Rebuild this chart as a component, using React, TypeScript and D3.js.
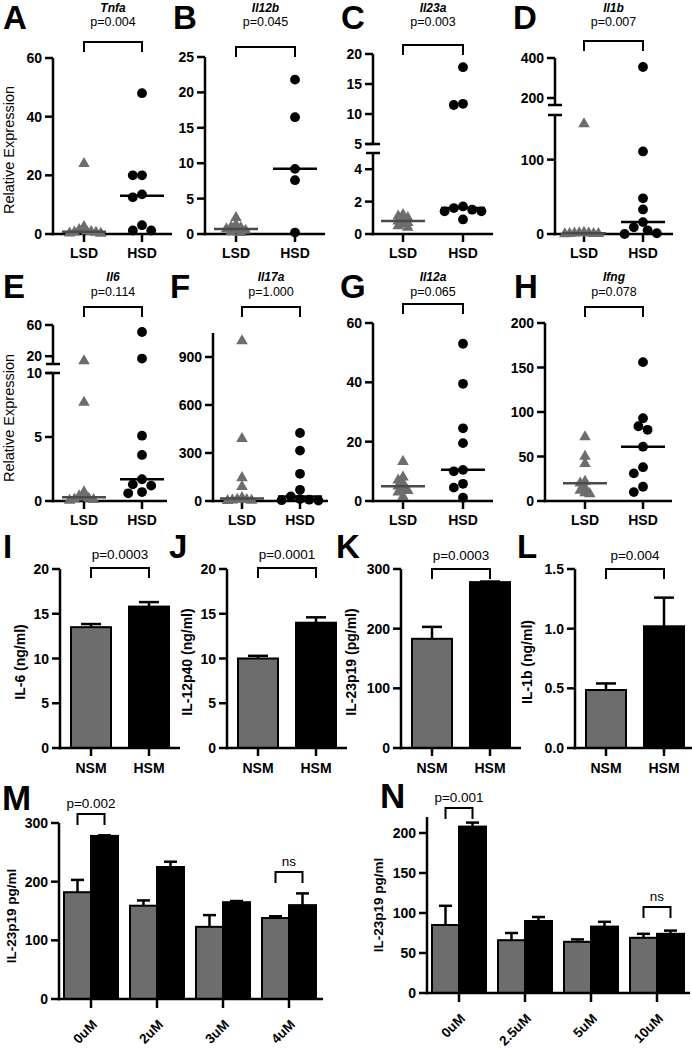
import React from 'react';
import * as d3 from 'd3';

const FONT = "'Liberation Sans', Arial, Helvetica, sans-serif";
const GRAY = '#6d6d6d';
const LW = 2.5;

// ---- A–H: relative expression per mouse (LSD vs HSD) ----
const tnfaLSD = [24, 2.5, 1.5, 1.0, 0.8, 0.6, 0.5, 0.3, 0.2];
const tnfaHSD = [48, 20, 20, 13.5, 12.5, 3, 1.2, 1.2];
const il12bLSD = [2.3, 1.3, 1.0, 0.9, 0.7, 0.6, 0.5, 0.3, 0.2];
const il12bHSD = [21.8, 16.5, 9.2, 7.6, 0.2];
const il23aLSD = [1.2, 1.1, 1.0, 0.9, 0.8, 0.7, 0.6, 0.5, 0.4];
const il23aHSD = [17.8, 11.7, 11.5, 1.7, 1.6, 1.5, 1.4, 1.4, 0.9];
const il1bLSD = [148, 2, 1.5, 1, 1, 0.5, 0.5, 0.3, 0.2];
const il1bHSD = [355, 111, 48, 33, 16, 9, 5, 1, 0];
const il6LSD = [14, 7.7, 0.7, 0.4, 0.3, 0.2, 0.15, 0.1, 0.05];
const il6HSD = [51, 17, 5.1, 3.6, 1.7, 1.3, 1.2, 0.7, 0.6];
const il17aLSD = [1000, 390, 145, 90, 20, 10, 8, 5, 3, 2];
const il17aHSD = [425, 315, 170, 70, 28, 12, 8, 5, 3];
const il12aLSD = [13.3, 8, 7, 6, 5, 4, 3.5, 3, 1.5];
const il12aHSD = [53, 39.5, 24.5, 19.5, 10.5, 10, 5.8, 4.5, 1.1];
const ifngLSD = [72, 50, 42, 22, 20, 15, 12, 9, 8];
const ifngHSD = [156, 93, 84, 80, 61, 38, 31, 16, 10];

const tnfaTicks = [0, 20, 40, 60];
const il12bTicks = [0, 5, 10, 15, 20, 25];
const il23aTicksLow = [0, 2, 4];
const il23aTicksHigh = [5, 10, 15, 20];
const il1bTicksLow = [0, 100];
const il1bTicksHigh = [200, 400];
const il6TicksLow = [0, 5, 10];
const il6TicksHigh = [20, 60];
const il17aTicks = [0, 300, 600, 900];
const il12aTicks = [0, 20, 40, 60];
const ifngTicks = [0, 50, 100, 150, 200];

// ---- I–L: ELISA, mean and SEM ----
const media = ['NSM', 'HSM'];
const il6Mean = [13.5, 15.8];
const il6Sem = [0.35, 0.5];
const il12p40Mean = [10.0, 14.0];
const il12p40Sem = [0.3, 0.6];
const il23Mean = [183, 278];
const il23Sem = [20, 1];
const il1bMean = [0.486, 1.02];
const il1bSem = [0.055, 0.24];

// ---- M–N: dose series ----
const doseM = ['0uM', '2uM', '3uM', '4uM'];
const mNSM = [182, 159, 123, 138];
const mNSMerr = [21, 9, 20, 3];
const mHSM = [278, 225, 165, 160];
const mHSMerr = [1, 9, 2, 20];
const doseN = ['0uM', '2.5uM', '5uM', '10uM'];
const nNSM = [85, 66, 64, 69];
const nNSMerr = [24, 9, 3, 5];
const nHSM = [208, 90, 83, 74];
const nHSMerr = [5, 5, 6, 4];

const DIETS = ['LSD', 'HSD'];

type Seg = { domain: [number, number]; range: [number, number]; ticks: number[] };

interface ScatterCfg {
  letter: string; lx: number; ly: number;
  gene: string; p: string; titleY: number; pY: number; brY: number;
  ax: number; cx: [number, number]; end: number;
  segs: Seg[];
  lsd: number[]; hsd: number[];
  ylabel?: { text: string; x: number; y: number };
}

// simple beeswarm: place highest first, nudge sideways until no overlap
function swarm(vals: number[], y: (v: number) => number, d: number) {
  const step = d / 2;
  const placed: { dx: number; y: number }[] = [];
  const out: { dx: number; y: number }[] = new Array(vals.length);
  const order = d3.range(vals.length).sort((a, b) => vals[b] - vals[a]);
  for (const i of order) {
    const py = y(vals[i]);
    for (let k = 0; k < 80; k++) {
      const dx = k === 0 ? 0 : (k % 2 ? -1 : 1) * Math.ceil(k / 2) * step;
      if (placed.every(p => Math.hypot(p.dx - dx, p.y - py) >= d)) {
        const pt = { dx, y: py };
        placed.push(pt);
        out[i] = pt;
        break;
      }
    }
  }
  return out;
}

function ScatterPanel({ c }: { c: ScatterCfg }) {
  const scales = c.segs.map(s => d3.scaleLinear().domain(s.domain).range(s.range));
  const y = (v: number) => {
    let k = 0;
    c.segs.forEach((s, i) => { if (i > 0 && v > s.domain[0]) k = i; });
    return scales[k](v);
  };
  const x = d3.scalePoint<string>().domain(DIETS).range(c.cx);
  const zero = c.segs[0].range[0];
  const xl = x('LSD')!, xh = x('HSD')!;
  const mid = (xl + xh) / 2;
  const lsdPts = swarm(c.lsd, y, 4.8);
  const hsdPts = swarm(c.hsd, y, 9.2);
  const tri = d3.symbol().type(d3.symbolTriangle).size(58)()!;
  const medL = y(d3.median(c.lsd)!);
  const medH = y(d3.median(c.hsd)!);
  return (
    <g>
      <text x={c.lx} y={c.ly} fontSize={33} fontWeight="bold">{c.letter}</text>
      <text x={mid} y={c.titleY} textAnchor="middle" fontSize={12} fontWeight="bold" fontStyle="italic">{c.gene}</text>
      <text x={mid} y={c.pY} textAnchor="middle" fontSize={12.5}>{c.p}</text>
      <path d={`M${xl},${c.brY + 10}V${c.brY}H${xh}V${c.brY + 10}`} fill="none" stroke="#000" strokeWidth={2} />
      {c.segs.map((s, i) => (
        <g key={i}>
          <line x1={c.ax} x2={c.ax} y1={s.range[0] + (i === 0 ? LW / 2 : 0)} y2={s.range[1]} stroke="#000" strokeWidth={LW} />
          {s.ticks.map(t => (
            <g key={t}>
              <line x1={c.ax - 8} x2={c.ax} y1={scales[i](t)} y2={scales[i](t)} stroke="#000" strokeWidth={LW} />
              <text x={c.ax - 11} y={scales[i](t)} dy="0.36em" textAnchor="end" fontSize={14} fontWeight="bold">{t}</text>
            </g>
          ))}
          {i > 0 && (
            <g stroke="#000" strokeWidth={LW}>
              <line x1={c.ax - 7} x2={c.ax + 7} y1={c.segs[i - 1].range[1]} y2={c.segs[i - 1].range[1]} />
              <line x1={c.ax - 7} x2={c.ax + 7} y1={s.range[0]} y2={s.range[0]} />
            </g>
          )}
        </g>
      ))}
      <line x1={c.ax - LW / 2} x2={c.end} y1={zero} y2={zero} stroke="#000" strokeWidth={LW} />
      {DIETS.map(k => (
        <g key={k}>
          <line x1={x(k)} x2={x(k)} y1={zero} y2={zero + 8} stroke="#000" strokeWidth={LW} />
          <text x={x(k)} y={zero + 24} textAnchor="middle" fontSize={14} fontWeight="bold">{k}</text>
        </g>
      ))}
      {lsdPts.map((p, i) => (
        <path key={i} d={tri} transform={`translate(${xl + p.dx},${p.y})`} fill={GRAY} />
      ))}
      {hsdPts.map((p, i) => (
        <circle key={i} cx={xh + p.dx} cy={p.y} r={4.9} fill="#000" />
      ))}
      <line x1={xl - 22} x2={xl + 22} y1={medL} y2={medL} stroke="#4a4a4a" strokeWidth={2.5} />
      <line x1={xh - 22} x2={xh + 22} y1={medH} y2={medH} stroke="#000" strokeWidth={2.5} />
      {c.ylabel && (
        <text transform={`translate(${c.ylabel.x},${c.ylabel.y}) rotate(-90)`} textAnchor="middle" fontSize={14.5}>
          {c.ylabel.text}
        </text>
      )}
    </g>
  );
}

interface BarCfg {
  letter: string; lx: number; ly: number;
  ax: number; zero: number; top: number; max: number; ticks: number[]; fmt: (v: number) => string;
  mean: number[]; sem: number[]; p: string; brY: number; pY: number;
  ylabel: string; ylx: number; yly: number;
}

function BarPanel({ c }: { c: BarCfg }) {
  const y = d3.scaleLinear().domain([0, c.max]).range([c.zero, c.top]);
  const x = d3.scalePoint<string>().domain(media).range([c.ax + 31, c.ax + 89]);
  const bw = 40;
  const x1 = x('NSM')!, x2 = x('HSM')!;
  return (
    <g>
      <text x={c.lx} y={c.ly} fontSize={33} fontWeight="bold">{c.letter}</text>
      <text x={(x1 + x2) / 2} y={c.pY} textAnchor="middle" fontSize={13.5}>{c.p}</text>
      <path d={`M${x1},${c.brY + 10}V${c.brY}H${x2}V${c.brY + 10}`} fill="none" stroke="#000" strokeWidth={2} />
      {media.map((m, i) => (
        <g key={m}>
          <line x1={x(m)} x2={x(m)} y1={y(c.mean[i])} y2={y(c.mean[i] + c.sem[i])} stroke="#000" strokeWidth={LW} />
          <line x1={x(m)! - 10} x2={x(m)! + 10} y1={y(c.mean[i] + c.sem[i])} y2={y(c.mean[i] + c.sem[i])} stroke="#000" strokeWidth={LW} />
          <rect x={x(m)! - bw / 2} y={y(c.mean[i])} width={bw} height={c.zero - y(c.mean[i])}
            fill={i === 0 ? GRAY : '#000'} stroke="#000" strokeWidth={2} />
        </g>
      ))}
      <line x1={c.ax} x2={c.ax} y1={c.zero + LW / 2} y2={y(c.max)} stroke="#000" strokeWidth={LW} />
      {c.ticks.map(t => (
        <g key={t}>
          <line x1={c.ax - 8} x2={c.ax} y1={y(t)} y2={y(t)} stroke="#000" strokeWidth={LW} />
          <text x={c.ax - 11} y={y(t)} dy="0.36em" textAnchor="end" fontSize={14} fontWeight="bold">{c.fmt(t)}</text>
        </g>
      ))}
      <line x1={c.ax - LW / 2} x2={c.ax + 120} y1={c.zero} y2={c.zero} stroke="#000" strokeWidth={LW} />
      {media.map(m => (
        <g key={m}>
          <line x1={x(m)} x2={x(m)} y1={c.zero} y2={c.zero + 8} stroke="#000" strokeWidth={LW} />
          <text x={x(m)} y={c.zero + 25} textAnchor="middle" fontSize={14} fontWeight="bold">{m}</text>
        </g>
      ))}
      <text transform={`translate(${c.ylx},${c.yly}) rotate(-90)`} textAnchor="middle" fontSize={14} fontWeight="bold">
        {c.ylabel}
      </text>
    </g>
  );
}

interface GroupCfg {
  letter: string; lx: number; ly: number;
  ax: number; end: number; zero: number; max: number; topPx: number; ticks: number[];
  cats: string[]; nsm: number[]; nsmErr: number[]; hsm: number[]; hsmErr: number[];
  brackets: { i: number; label: string; y: number }[];
  ylabel: string; ylx: number; yly: number;
}

function GroupPanel({ c }: { c: GroupCfg }) {
  const y = d3.scaleLinear().domain([0, c.max]).range([c.zero, c.topPx]);
  const x = d3.scaleBand<string>().domain(c.cats).range([c.ax - 1, c.ax + 263]);
  const bw = 27;
  const cx = (k: string) => x(k)! + x.bandwidth() / 2;
  const bar = (k: string, v: number, e: number, left: boolean, fill: string) => {
    const bx = left ? cx(k) - bw : cx(k);
    const mx = bx + bw / 2;
    return (
      <g>
        <line x1={mx} x2={mx} y1={y(v)} y2={y(v + e)} stroke="#000" strokeWidth={LW} />
        <line x1={mx - 6.5} x2={mx + 6.5} y1={y(v + e)} y2={y(v + e)} stroke="#000" strokeWidth={LW} />
        <rect x={bx} y={y(v)} width={bw} height={c.zero - y(v)} fill={fill} stroke="#000" strokeWidth={2} />
      </g>
    );
  };
  return (
    <g>
      <text x={c.lx} y={c.ly} fontSize={35} fontWeight="bold">{c.letter}</text>
      {c.cats.map((k, i) => (
        <g key={k}>
          {bar(k, c.nsm[i], c.nsmErr[i], true, GRAY)}
          {bar(k, c.hsm[i], c.hsmErr[i], false, '#000')}
        </g>
      ))}
      {c.brackets.map(b => {
        const k = c.cats[b.i];
        const a1 = cx(k) - bw / 2, a2 = cx(k) + bw / 2;
        return (
          <g key={b.label}>
            <path d={`M${a1},${b.y + 11}V${b.y}H${a2}V${b.y + 11}`} fill="none" stroke="#000" strokeWidth={2} />
            <text x={(a1 + a2) / 2} y={b.y - 6} textAnchor="middle" fontSize={13.5}>{b.label}</text>
          </g>
        );
      })}
      <line x1={c.ax} x2={c.ax} y1={c.zero + LW / 2} y2={c.topPx} stroke="#000" strokeWidth={LW} />
      {c.ticks.map(t => (
        <g key={t}>
          <line x1={c.ax - 8} x2={c.ax} y1={y(t)} y2={y(t)} stroke="#000" strokeWidth={LW} />
          <text x={c.ax - 11} y={y(t)} dy="0.36em" textAnchor="end" fontSize={14} fontWeight="bold">{t}</text>
        </g>
      ))}
      <line x1={c.ax - LW / 2} x2={c.end} y1={c.zero} y2={c.zero} stroke="#000" strokeWidth={LW} />
      {c.cats.map(k => (
        <g key={k}>
          <line x1={cx(k)} x2={cx(k)} y1={c.zero} y2={c.zero + 9} stroke="#000" strokeWidth={LW} />
          <text transform={`translate(${cx(k) + 3.5},${c.zero + 23}) rotate(-45)`} dy="0.35em"
            textAnchor="end" fontSize={13.5} fontWeight="bold">{k}</text>
        </g>
      ))}
      <text transform={`translate(${c.ylx},${c.yly}) rotate(-90)`} textAnchor="middle" fontSize={13.5} fontWeight="bold">
        {c.ylabel}
      </text>
    </g>
  );
}

const R1 = 234;
const R2 = 501;

const scatterPanels: ScatterCfg[] = [
  { letter: 'A', lx: 3, ly: 29, gene: 'Tnfa', p: 'p=0.004', titleY: 12, pY: 26, brY: 42,
    ax: 53, cx: [84, 142], end: 172, segs: [{ domain: [0, 60], range: [R1, 58], ticks: tnfaTicks }],
    lsd: tnfaLSD, hsd: tnfaHSD, ylabel: { text: 'Relative  Expression', x: 14, y: 150 } },
  { letter: 'B', lx: 173, ly: 29, gene: 'Il12b', p: 'p=0.045', titleY: 12, pY: 26, brY: 47,
    ax: 205, cx: [236, 295], end: 325, segs: [{ domain: [0, 25], range: [R1, 57], ticks: il12bTicks }],
    lsd: il12bLSD, hsd: il12bHSD },
  { letter: 'C', lx: 341, ly: 29, gene: 'Il23a', p: 'p=0.003', titleY: 12, pY: 26, brY: 45,
    ax: 373, cx: [403, 463], end: 493,
    segs: [{ domain: [0, 5], range: [R1, 153], ticks: il23aTicksLow }, { domain: [5, 20], range: [144, 54], ticks: il23aTicksHigh }],
    lsd: il23aLSD, hsd: il23aHSD },
  { letter: 'D', lx: 513, ly: 29, gene: 'Il1b', p: 'p=0.007', titleY: 12, pY: 26, brY: 41,
    ax: 555, cx: [584, 643], end: 673,
    segs: [{ domain: [0, 160], range: [R1, 115], ticks: il1bTicksLow }, { domain: [165, 400], range: [105, 58], ticks: il1bTicksHigh }],
    lsd: il1bLSD, hsd: il1bHSD },
  { letter: 'E', lx: 3, ly: 298, gene: 'Il6', p: 'p=0.114', titleY: 281, pY: 296, brY: 307,
    ax: 53, cx: [84, 142], end: 167,
    segs: [{ domain: [0, 10], range: [R2, 373], ticks: il6TicksLow }, { domain: [10, 60], range: [364, 325], ticks: il6TicksHigh }],
    lsd: il6LSD, hsd: il6HSD, ylabel: { text: 'Relative  Expression', x: 14, y: 418 } },
  { letter: 'F', lx: 170, ly: 298, gene: 'Il17a', p: 'p=1.000', titleY: 281, pY: 296, brY: 307,
    ax: 213, cx: [242, 300], end: 328, segs: [{ domain: [0, 1050], range: [R2, 333], ticks: il17aTicks }],
    lsd: il17aLSD, hsd: il17aHSD },
  { letter: 'G', lx: 340, ly: 298, gene: 'Il12a', p: 'p=0.065', titleY: 281, pY: 296, brY: 304,
    ax: 373, cx: [403, 463], end: 493, segs: [{ domain: [0, 60], range: [R2, 323], ticks: il12aTicks }],
    lsd: il12aLSD, hsd: il12aHSD },
  { letter: 'H', lx: 514, ly: 298, gene: 'Ifng', p: 'p=0.078', titleY: 281, pY: 296, brY: 307,
    ax: 545, cx: [585, 643], end: 672, segs: [{ domain: [0, 200], range: [R2, 323], ticks: ifngTicks }],
    lsd: ifngLSD, hsd: ifngHSD },
];

const intFmt = d3.format('d');
const dec1 = d3.format('.1f');

const barPanels: BarCfg[] = [
  { letter: 'I', lx: 3, ly: 558, ax: 60, zero: 748, top: 569, max: 20, ticks: [0, 5, 10, 15, 20], fmt: intFmt,
    mean: il6Mean, sem: il6Sem, p: 'p=0.0003', brY: 568, pY: 559, ylabel: 'IL-6 (ng/ml)', ylx: 25, yly: 662 },
  { letter: 'J', lx: 169, ly: 558, ax: 227, zero: 748, top: 569, max: 20, ticks: [0, 5, 10, 15, 20], fmt: intFmt,
    mean: il12p40Mean, sem: il12p40Sem, p: 'p=0.0001', brY: 568, pY: 559, ylabel: 'IL-12p40 (ng/ml)', ylx: 192, yly: 662 },
  { letter: 'K', lx: 336, ly: 558, ax: 401, zero: 748, top: 569, max: 300, ticks: [0, 100, 200, 300], fmt: intFmt,
    mean: il23Mean, sem: il23Sem, p: 'p=0.0003', brY: 569, pY: 560, ylabel: 'IL-23p19 (pg/ml)', ylx: 356, yly: 662 },
  { letter: 'L', lx: 517, ly: 558, ax: 575, zero: 748, top: 569, max: 1.5, ticks: [0, 0.5, 1, 1.5], fmt: dec1,
    mean: il1bMean, sem: il1bSem, p: 'p=0.004', brY: 569, pY: 560, ylabel: 'IL-1b (ng/ml)', ylx: 532, yly: 662 },
];

const groupPanels: GroupCfg[] = [
  { letter: 'M', lx: 2, ly: 810, ax: 59, end: 323, zero: 999, max: 300, topPx: 823, ticks: [0, 100, 200, 300],
    cats: doseM, nsm: mNSM, nsmErr: mNSMerr, hsm: mHSM, hsmErr: mHSMerr,
    brackets: [{ i: 0, label: 'p=0.002', y: 814 }, { i: 3, label: 'ns', y: 872 }],
    ylabel: 'IL-23p19 pg/ml', ylx: 16, yly: 916 },
  { letter: 'N', lx: 380, ly: 808, ax: 427, end: 690, zero: 993, max: 220, topPx: 817, ticks: [0, 50, 100, 150, 200],
    cats: doseN, nsm: nNSM, nsmErr: nNSMerr, hsm: nHSM, hsmErr: nHSMerr,
    brackets: [{ i: 0, label: 'p=0.001', y: 808 }, { i: 3, label: 'ns', y: 907 }],
    ylabel: 'IL-23p19 pg/ml', ylx: 383, yly: 905 },
];

export default function App() {
  return (
    <svg width={692} height={1050} style={{ position: 'absolute', left: 0, top: 0, background: '#fff' }}
      fontFamily={FONT}>
      <rect width={692} height={1050} fill="#fff" />
      {scatterPanels.map(c => <ScatterPanel key={c.letter} c={c} />)}
      {barPanels.map(c => <BarPanel key={c.letter} c={c} />)}
      {groupPanels.map(c => <GroupPanel key={c.letter} c={c} />)}
    </svg>
  );
}
